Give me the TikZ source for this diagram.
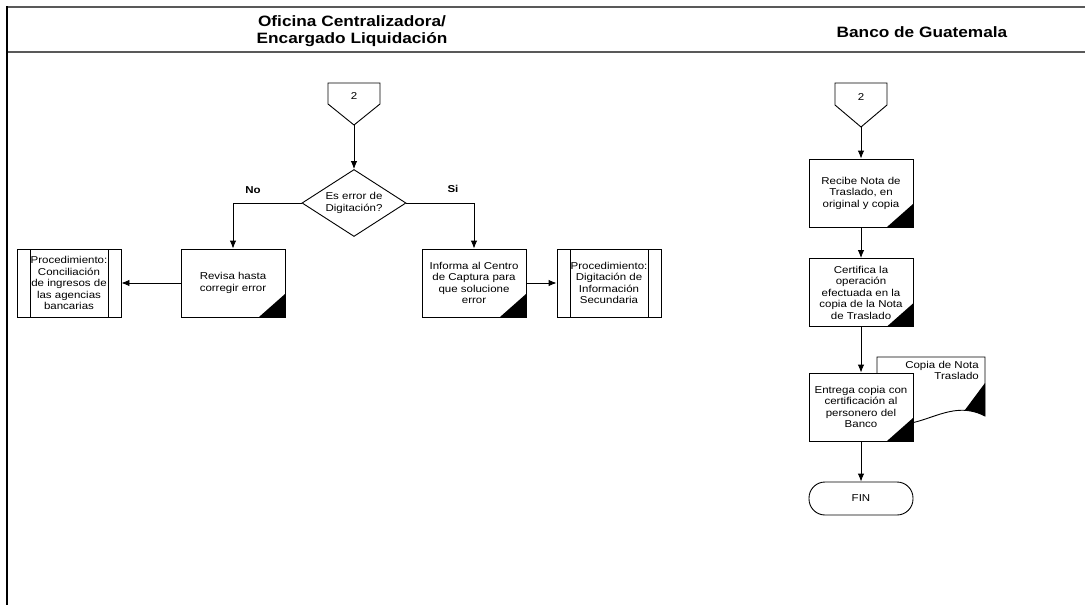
\documentclass[tikz,border=0pt]{standalone}
\usepackage{fontspec}
\setmainfont{Liberation Sans}[FakeStretch=1.15]
\usetikzlibrary{arrows.meta,shapes.geometric}

\begin{document}
\begin{tikzpicture}[x=1pt,y=-1pt,
  every node/.style={font=\fontsize{10}{11.5}\selectfont},
  laneline/.style={line width=1.5pt, draw=black!65},
  lanewall/.style={line width=1.2pt, draw=black},
  outline/.style={line width=0.9pt, draw=black},
  flow/.style={line width=0.9pt, -{Latex[length=8pt,width=6.5pt]}},
  head/.style={font=\fontsize{15}{17}\selectfont\bfseries, align=center},
  branch/.style={font=\fontsize{10}{11.5}\selectfont\bfseries},
  procbox/.style={outline, fill=white, minimum width=104pt, minimum height=68pt,
    align=center, inner sep=2pt,
    path picture={\fill[black] (path picture bounding box.south east)
      -- ++(-26pt,0pt) -- ++(26pt,23pt) -- cycle;}},
  subproc/.style={outline, minimum width=104pt, minimum height=68pt,
    align=center, inner sep=0pt,
    path picture={\draw[line width=0.9pt]
      ([xshift=13pt]path picture bounding box.north west) --
      ([xshift=13pt]path picture bounding box.south west)
      ([xshift=-13pt]path picture bounding box.north east) --
      ([xshift=-13pt]path picture bounding box.south east);}},
  decision/.style={diamond, outline, aspect=1.55, minimum width=104pt,
    minimum height=67pt, inner sep=0pt, align=center},
  terminal/.style={outline, rounded corners=16pt, minimum width=104pt,
    minimum height=33pt}
]
\useasboundingbox (0,0) rectangle (1085,605);

% swimlane frame
\draw[laneline] (7,7) -- (1085,7);
\draw[laneline] (7,52) -- (1085,52);
\draw[lanewall] (7,6.3) -- (7,605);

\node[head] (laneA) at (352,31) {Oficina Centralizadora/\\Encargado Liquidación};
\node[head] (laneB) at (922,32) {Banco de Guatemala};

% off-page reference, left lane
\draw[outline] (328,83) -- (380,83) -- (380,104) -- (354,125) -- (328,104) -- cycle;
\node (refA) at (354,96) {2};
\coordinate (refAtip) at (354,125);

\node[decision] (dec) at (354,203) {Es error de\\Digitación?};

\node[procbox] (revisa) at (233,283) {Revisa hasta\\corregir error};
\node[procbox] (informa) at (474,283) {Informa al Centro\\de Captura para\\que solucione\\error};
\node[subproc] (procL) at (69,283) {Procedimiento:\\Conciliación\\de ingresos de\\las agencias\\bancarias};
\node[subproc] (procR) at (609,283) {Procedimiento:\\Digitación de\\Información\\Secundaria};

\draw[flow] (refAtip) -- (dec.north);
\draw[flow] (dec.west) -| (revisa.north);
\draw[flow] (dec.east) -| (informa.north);
\draw[flow] (revisa.west) -- (procL.east);
\draw[flow] (informa.east) -- (procR.west);

\node[branch] (lblNo) at (253,190) {No};
\node[branch] (lblSi) at (453,189) {Si};

% off-page reference, right lane
\draw[outline] (835,83) -- (887,83) -- (887,105) -- (861,127) -- (835,105) -- cycle;
\node (refB) at (861,97) {2};
\coordinate (refBtip) at (861,127);

\node[procbox] (recibe) at (861,193) {Recibe Nota de\\Traslado, en\\original y copia};
\node[procbox] (certifica) at (861,292.5) {Certifica la\\operación\\efectuada en la\\copia de la Nota\\de Traslado};

% document behind the delivery step
\fill[white] (877,418) -- (877,357) -- (985,357) -- (985,416)
  .. controls (945,395) and (915,440) .. (877,418) -- cycle;
\begin{scope}
  \clip (877,418) -- (877,357) -- (985,357) -- (985,416)
    .. controls (945,395) and (915,440) .. (877,418) -- cycle;
  \fill[black] (985,383) -- (953,426) -- (990,426) -- cycle;
\end{scope}
\draw[outline] (877,418) -- (877,357) -- (985,357) -- (985,416)
  .. controls (945,395) and (915,440) .. (877,418) -- cycle;
\node[anchor=north east, align=right, inner sep=0pt] (copia) at (979,361)
  {Copia de Nota\\Traslado};

\node[procbox] (entrega) at (861,407) {Entrega copia con\\certificación al\\personero del\\Banco};
\node[terminal] (fin) at (861,498.5) {FIN};

\draw[flow] (refBtip) -- (recibe.north);
\draw[flow] (recibe.south) -- (certifica.north);
\draw[flow] (certifica.south) -- (entrega.north);
\draw[flow] (entrega.south) -- (fin.north);
\end{tikzpicture}
\end{document}
